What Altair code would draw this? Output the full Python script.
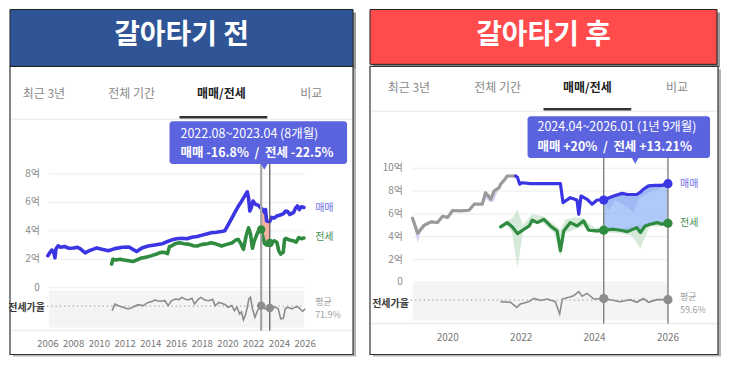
import altair as alt
import pandas as pd

FONT = "Noto Sans CJK KR"
NB = "\u00a0"

# ---------------- LEFT PANEL DATA (갈아타기 전) ----------------
L_TITLE = "갈아타기 전"
L_SALE = [(2006.0, 2.25), (2006.1, 2.4), (2006.3, 2.65), (2006.45, 2.5), (2006.55, 2.1), (2006.62, 2.7),
          (2006.8, 2.95), (2007.0, 2.85), (2007.3, 2.9), (2007.6, 2.78), (2008.0, 2.8), (2008.3, 2.85),
          (2008.5, 2.75), (2008.9, 2.45), (2009.2, 2.6), (2009.5, 2.7), (2009.8, 2.8), (2010.2, 2.7),
          (2010.7, 2.6), (2011.2, 2.75), (2011.8, 2.85), (2012.3, 2.87), (2012.6, 2.7), (2012.9, 2.55),
          (2013.3, 2.8), (2013.8, 2.94), (2014.3, 3.0), (2014.9, 3.1), (2015.3, 3.25), (2015.6, 3.35),
          (2016.0, 3.45), (2016.4, 3.48), (2016.8, 3.45), (2017.2, 3.55), (2017.6, 3.6), (2018.0, 3.7),
          (2018.4, 3.8), (2018.7, 3.87), (2019.1, 3.9), (2019.5, 3.95), (2019.75, 4.0), (2020.0, 4.4),
          (2020.3, 4.9), (2020.6, 5.4), (2020.8, 5.73), (2021.0, 6.0), (2021.2, 6.3), (2021.4, 6.6),
          (2021.5, 6.75), (2021.6, 6.3), (2021.7, 5.4), (2021.8, 5.6), (2021.95, 6.1), (2022.1, 5.9),
          (2022.2, 5.85), (2022.35, 5.8), (2022.5, 5.65), (2022.58, 5.6), (2022.7, 5.5), (2022.85, 5.3),
          (2022.92, 5.5), (2023.0, 4.7), (2023.25, 4.65), (2023.4, 4.95), (2023.6, 4.9), (2023.8, 5.05),
          (2024.0, 5.1), (2024.3, 5.2), (2024.5, 5.4), (2024.65, 5.35), (2024.8, 5.15), (2024.9, 5.2),
          (2025.1, 5.3), (2025.25, 5.6), (2025.4, 5.75), (2025.55, 5.5), (2025.7, 5.7), (2025.9, 5.65)]
L_JEON = [(2010.96, 1.66), (2011.05, 2.0), (2011.3, 1.95), (2011.6, 2.0), (2011.9, 1.95), (2012.3, 1.9),
          (2012.6, 1.84), (2012.9, 1.95), (2013.2, 2.07), (2013.6, 2.15), (2014.0, 2.24), (2014.4, 2.35),
          (2014.7, 2.47), (2015.0, 2.5), (2015.3, 2.4), (2015.45, 2.9), (2015.6, 2.94), (2015.9, 3.1),
          (2016.2, 3.17), (2016.6, 3.1), (2017.0, 3.05), (2017.3, 2.95), (2017.6, 2.94), (2018.0, 3.05),
          (2018.4, 3.1), (2018.7, 3.17), (2019.0, 3.1), (2019.3, 3.0), (2019.5, 2.94), (2019.9, 3.05),
          (2020.3, 3.15), (2020.6, 3.35), (2020.8, 3.4), (2021.0, 3.1), (2021.2, 2.7), (2021.4, 3.6),
          (2021.6, 4.22), (2021.75, 3.8), (2021.9, 2.78), (2022.05, 3.3), (2022.3, 3.87), (2022.45, 4.15),
          (2022.58, 4.1), (2022.7, 3.6), (2022.85, 3.1), (2023.0, 3.0), (2023.25, 3.15), (2023.45, 3.2),
          (2023.6, 3.3), (2023.8, 3.2), (2023.95, 2.6), (2024.1, 2.36), (2024.3, 2.5), (2024.4, 3.4),
          (2024.5, 3.47), (2024.8, 3.35), (2025.1, 3.29), (2025.3, 3.2), (2025.5, 3.52), (2025.7, 3.45),
          (2025.9, 3.5)]
L_RATIO = [(2011.0, 65.6), (2011.2, 74), (2011.45, 72), (2011.7, 70.6), (2012.0, 69), (2012.25, 67.8),
           (2012.6, 70), (2013.0, 73.1), (2013.4, 72), (2013.8, 76), (2014.1, 77), (2014.3, 79),
           (2014.7, 77.5), (2015.1, 78.1), (2015.35, 71.9), (2015.6, 78), (2015.9, 80.3), (2016.2, 79.5),
           (2016.4, 82.3), (2016.7, 80), (2016.9, 79), (2017.2, 81), (2017.4, 74), (2017.7, 80),
           (2017.9, 82.3), (2018.2, 79), (2018.5, 78.1), (2018.8, 80), (2019.0, 71.9), (2019.3, 76),
           (2019.5, 75), (2019.8, 73), (2020.0, 69.8), (2020.3, 72), (2020.5, 65.6), (2020.7, 70),
           (2020.9, 61.5), (2021.05, 64), (2021.2, 54), (2021.35, 60), (2021.5, 69.8), (2021.62, 80),
           (2021.75, 82.3), (2021.9, 68), (2022.1, 57.3), (2022.3, 66), (2022.58, 71.9), (2022.75, 70),
           (2022.9, 67.8), (2023.1, 70.5), (2023.25, 69), (2023.5, 70), (2023.7, 69.8), (2023.9, 68),
           (2024.1, 55.3), (2024.3, 56), (2024.45, 68), (2024.6, 69.8), (2024.8, 69), (2025.0, 67.8),
           (2025.2, 70), (2025.4, 70.6), (2025.6, 68), (2025.8, 64.6), (2026.0, 67.8)]
L_HILITE = [(2022.58, 5.6, 4.1), (2022.7, 5.5, 3.6), (2022.85, 5.3, 3.1), (2023.0, 4.7, 3.0), (2023.25, 4.65, 3.15)]
L_MARK_YR = [2022.58, 2023.25]
L_MARK_JEON = [4.1, 3.15]
L_MARK_RATIO = [71.9, 69.0]
L_YEARS = [2006, 2008, 2010, 2012, 2014, 2016, 2018, 2020, 2022, 2024, 2026]
L_YTICKS = [0, 2, 4, 6, 8]
L_YTICK_LABELS = ["0", "2억", "4억", "6억", "8억"]
L_TIP = ["2022.08~2023.04 (8개월)", "매매 -16.8%  /  전세 -22.5%"]
L_AVG = "71.9%"

# ---------------- RIGHT PANEL DATA (갈아타기 후) ----------------
R_TITLE = "갈아타기 후"
R_SALE_OLD = [(2019.04, 5.62), (2019.18, 4.3), (2019.36, 5.0), (2019.54, 5.3), (2019.72, 5.25), (2019.86, 5.8),
              (2020.0, 5.7), (2020.13, 6.3), (2020.35, 6.26), (2020.58, 6.32), (2020.72, 6.85), (2020.94, 6.85),
              (2021.03, 7.86), (2021.1, 7.6), (2021.17, 7.28), (2021.26, 8.0), (2021.4, 8.3), (2021.44, 8.6),
              (2021.55, 9.0), (2021.62, 9.32), (2021.85, 9.32)]
R_SALE = [(2021.85, 9.32), (2021.9, 9.2), (2021.96, 8.6), (2022.03, 8.73), (2022.26, 8.65), (2023.07, 8.65),
          (2023.14, 6.99), (2023.34, 7.42), (2023.52, 7.22), (2023.57, 5.97), (2023.63, 7.57), (2023.8, 7.28),
          (2023.93, 6.85), (2024.07, 7.22), (2024.25, 7.22), (2024.52, 7.57), (2024.75, 7.8), (2024.9, 7.7),
          (2025.15, 7.7), (2025.25, 7.9), (2025.33, 8.16), (2025.47, 8.45), (2025.65, 8.5), (2025.83, 8.5),
          (2026.0, 8.65)]
R_JEON = [(2021.44, 4.86), (2021.62, 5.24), (2021.76, 4.86), (2021.9, 4.28), (2022.08, 4.66), (2022.22, 4.95),
          (2022.3, 5.45), (2022.44, 5.24), (2022.62, 5.53), (2022.8, 4.95), (2022.98, 4.51), (2023.07, 2.77),
          (2023.16, 4.51), (2023.34, 5.24), (2023.52, 4.95), (2023.7, 5.39), (2023.84, 4.57), (2024.07, 4.51),
          (2024.25, 4.58), (2024.52, 4.66), (2024.75, 4.55), (2024.9, 4.45), (2025.15, 4.8), (2025.25, 4.37),
          (2025.38, 4.95), (2025.52, 5.1), (2025.7, 5.24), (2025.84, 5.1), (2026.0, 5.18)]
R_JEON_BAND = [(2021.44, 4.7, 5.0), (2021.6, 5.0, 5.4), (2021.75, 4.4, 5.6), (2021.9, 1.3, 6.4), (2022.05, 4.4, 5.0),
               (2022.3, 5.2, 6.0), (2022.6, 5.2, 5.8), (2022.9, 4.3, 5.1), (2023.07, 2.3, 4.6), (2023.2, 4.3, 5.5),
               (2023.5, 4.7, 5.7), (2023.7, 4.9, 5.6), (2024.0, 4.3, 4.8), (2024.3, 4.4, 4.8), (2024.7, 4.3, 4.7),
               (2025.0, 4.1, 4.9), (2025.25, 3.0, 5.0), (2025.5, 4.9, 5.3), (2025.8, 4.9, 5.4), (2026.0, 5.1, 5.3)]
R_SALE_BAND_A = [(2019.04, 5.5, 5.7), (2019.18, 3.4, 4.5), (2019.3, 4.9, 5.1), (2019.45, 5.15, 5.35)]
R_SALE_BAND_B = [(2021.0, 7.4, 7.9), (2021.17, 7.0, 7.4), (2021.26, 7.1, 8.0), (2021.35, 7.9, 8.3)]
R_HILITE = [(2024.25, 7.22, 4.58), (2024.52, 7.57, 4.66), (2024.75, 7.8, 4.55), (2024.9, 7.7, 4.45),
            (2025.15, 7.7, 4.8), (2025.25, 7.9, 4.37), (2025.33, 8.16, 4.7), (2025.47, 8.45, 5.0),
            (2025.65, 8.5, 5.2), (2025.83, 8.5, 5.1), (2026.0, 8.65, 5.18)]
R_HILITE_SPIKES = [(2024.25, 7.0, 7.3), (2024.4, 6.3, 7.5), (2024.55, 7.2, 7.6), (2024.9, 6.6, 7.7),
                   (2025.05, 6.1, 7.7), (2025.2, 7.3, 7.8), (2025.5, 7.9, 8.5), (2026.0, 8.5, 8.7)]
R_RATIO = [(2021.44, 57.1), (2021.71, 56.3), (2021.88, 50), (2021.98, 54.2), (2022.2, 57.1), (2022.35, 61.2),
           (2022.53, 58.6), (2022.71, 60.4), (2022.93, 57.1), (2023.05, 41.7), (2023.12, 60.4), (2023.3, 62.5),
           (2023.43, 64.6), (2023.57, 69.6), (2023.66, 64), (2023.8, 67.5), (2023.98, 60.4), (2024.25, 61),
           (2024.43, 59.6), (2024.7, 57.1), (2024.97, 59.6), (2025.15, 56.3), (2025.33, 61), (2025.47, 56.3),
           (2025.7, 59.6), (2026.0, 59.6)]
R_MARK_YR = [2024.25, 2026.0]
R_MARK_SALE = [7.22, 8.65]
R_MARK_JEON = [4.58, 5.18]
R_MARK_RATIO = [61.0, 59.6]
R_YEARS = [2020, 2022, 2024, 2026]
R_YTICKS = [0, 2, 4, 6, 8, 10]
R_YTICK_LABELS = ["0", "2억", "4억", "6억", "8억", "10억"]
R_TIP = ["2024.04~2026.01 (1년 9개월)", "매매 +20%  /  전세 +13.21%"]
R_AVG = "59.6%"

TABS = ["최근 3년", "전체 기간", "매매/전세", "비교"]

SALE_C = "#3B35E3"
JEON_C = "#2E8B3F"
TIP_C = "#5B63DE"


def one():
    return pd.DataFrame({"k": [0]})


def rect(x1, x2, y1, y2, **kw):
    return alt.Chart(one()).mark_rect(**kw).encode(
        x=alt.value(x1), x2=alt.value(x2), y=alt.value(y1), y2=alt.value(y2))


def txt(x, y, s, **kw):
    kw.setdefault("font", FONT)
    return alt.Chart(one()).mark_text(text=s, **kw).encode(x=alt.value(x), y=alt.value(y))


def hrule(x1, x2, y, **kw):
    return alt.Chart(one()).mark_rule(**kw).encode(x=alt.value(x1), x2=alt.value(x2), y=alt.value(y))


def keep_spaces(s):
    return s.replace("  ", NB + NB)


def panel(c):
    XS = alt.Scale(domain=c["xdom"], range=c["xrng"], nice=False, zero=False)
    YS = alt.Scale(domain=c["ydom"], range=c["yrng"], nice=False, zero=False)
    RS = alt.Scale(domain=c["rdom"], range=c["rrng"], nice=False, zero=False)
    X = alt.X("yr:Q", scale=XS, axis=None)

    def Y(f="v"):
        return alt.Y(f + ":Q", scale=YS, axis=None)

    layers = []
    bx1, bx2, by1, by2 = c["banner"]
    cx1, cx2, cy1, cy2 = c["card"]
    # shadows
    layers.append(rect(cx1 + 3, cx2 + 3, cy1 + 3, cy2 + 2, color="#777", opacity=0.55))
    layers.append(rect(bx1 + 3, bx2 + 3, by1 + 3, by2 + 3, color="#555", opacity=0.6))
    # card
    layers.append(rect(cx1, cx2, cy1, cy2, fill="white", stroke="#333", strokeWidth=1.2))
    # banner
    layers.append(rect(bx1, bx2, by1, by2, fill=c["bcolor"], stroke="#222", strokeWidth=1))
    layers.append(txt((bx1 + bx2) / 2, c["title_y"], c["title"], fontSize=28, fontWeight="bold",
                      color="white", align="center", baseline="middle"))
    # tabs
    for i, t in enumerate(TABS):
        active = (i == 2)
        layers.append(txt(c["tab_x"][i], c["tab_y"], t, fontSize=12, align="center", baseline="middle",
                          fontWeight="bold" if active else "normal",
                          color="#222" if active else "#888"))
    layers.append(hrule(cx1 + 1, cx2 - 1, c["sep_y"], color="#E6E6E6", strokeWidth=1))
    layers.append(rect(c["ul"][0], c["ul"][1], c["ul"][2] - 1.2, c["ul"][2] + 1.2, color="#333"))

    gx1, gx2 = c["grid_x"]
    # gridlines + y labels
    ydf = pd.DataFrame({"v": c["yticks"], "lab": c["ylabels"]})
    layers.append(alt.Chart(ydf).mark_rule(color="#ECECEC", strokeWidth=1).encode(
        y=Y(), x=alt.value(gx1), x2=alt.value(gx2)))
    layers.append(alt.Chart(ydf).mark_text(font=FONT, fontSize=10, color="#8A8A8A", align="right",
                                           baseline="middle").encode(
        y=Y(), x=alt.value(c["ylab_x"]), text="lab:N"))
    # ratio band
    rb1, rb2 = c["rband"]
    layers.append(rect(gx1, gx2, rb1, rb2, color="#F4F4F4"))
    layers.append(hrule(cx1 + 1, cx2 - 1, c["bottom_sep"], color="#EBEBEB", strokeWidth=1.5))
    # x labels
    xdf = pd.DataFrame({"yr": c["years"], "lab": [str(y) for y in c["years"]]})
    layers.append(alt.Chart(xdf).mark_text(font=FONT, fontSize=c["xfs"], color="#777", align="center",
                                           baseline="middle").encode(
        x=X, y=alt.value(c["xlab_y"]), text="lab:N"))

    # bands
    for band, col, op in c.get("bands", []):
        bdf = pd.DataFrame(band, columns=["yr", "lo", "hi"])
        layers.append(alt.Chart(bdf).mark_area(color=col, opacity=op).encode(
            x=X, y=Y("lo"), y2=alt.Y2("hi")))
    # highlight fill
    hdf = pd.DataFrame(c["hilite"], columns=["yr", "top", "bot"])
    layers.append(alt.Chart(hdf).mark_area(color=c["hcolor"], opacity=c["hop"]).encode(
        x=X, y=Y("top"), y2=alt.Y2("bot")))
    for band, col, op in c.get("post_bands", []):
        bdf = pd.DataFrame(band, columns=["yr", "lo", "hi"])
        layers.append(alt.Chart(bdf).mark_area(color=col, opacity=op).encode(
            x=X, y=Y("lo"), y2=alt.Y2("hi")))

    # lines
    for series, col, w in c["lines"]:
        df = pd.DataFrame(series, columns=["yr", "v"])
        layers.append(alt.Chart(df).mark_line(color=col, strokeWidth=w, strokeJoin="round",
                                              strokeCap="round").encode(x=X, y=Y()))
    # ratio
    rdf = pd.DataFrame(c["ratio"], columns=["yr", "r"])
    layers.append(hrule(c["dot_x1"], gx2, c["avg_y"], color="#A8A8A8", strokeWidth=1.3, strokeDash=[1.3, 3]))
    layers.append(alt.Chart(rdf).mark_line(color="#8C8C8C", strokeWidth=1.6).encode(
        x=X, y=alt.Y("r:Q", scale=RS, axis=None)))

    # vertical markers
    vdf = pd.DataFrame({"yr": c["mark_yr"]})
    for i in range(len(c["mark_yr"])):
        layers.append(alt.Chart(vdf.iloc[[i]]).mark_rule(color=c["vcolor"][i], strokeWidth=c["vwidth"][i]).encode(
            x=X, y=alt.value(c["vy"][0]), y2=alt.value(c["vy"][1])))

    # dots
    if c.get("mark_sale"):
        d = pd.DataFrame({"yr": c["mark_yr"], "v": c["mark_sale"]})
        layers.append(alt.Chart(d).mark_circle(color=SALE_C, size=c["dot"], opacity=1).encode(x=X, y=Y()))
    d = pd.DataFrame({"yr": c["mark_yr"], "v": c["mark_jeon"]})
    layers.append(alt.Chart(d).mark_circle(color=JEON_C, size=c["dot"], opacity=1).encode(x=X, y=Y()))
    d = pd.DataFrame({"yr": c["mark_yr"], "r": c["mark_ratio"]})
    layers.append(alt.Chart(d).mark_circle(color="#8C8C8C", size=c["dot"], opacity=1).encode(
        x=X, y=alt.Y("r:Q", scale=RS, axis=None)))

    # side labels
    lx = c["side_x"]
    layers.append(txt(lx, c["sale_lab_y"], "매매", fontSize=10, color="#6C6CE6", align="left", baseline="middle"))
    layers.append(txt(lx, c["jeon_lab_y"], "전세", fontSize=10, color="#3E8E4F", align="left", baseline="middle"))
    layers.append(txt(lx, c["avg_lab_y"][0], "평균", fontSize=9, color="#A0A0A0", align="left", baseline="middle"))
    layers.append(txt(lx, c["avg_lab_y"][1], c["avg"], fontSize=9, color="#A0A0A0", align="left", baseline="middle"))
    layers.append(txt(c["ratio_lab_x"], c["ratio_lab_y"], "전세가율", fontSize=10, fontWeight="bold",
                      color="#3A3A3A", align="right", baseline="middle"))

    # tooltip
    tx1, tx2, ty1, ty2 = c["tip"]
    layers.append(rect(tx1, tx2, ty1, ty2, color=TIP_C, cornerRadius=3))
    layers.append(alt.Chart(one()).mark_point(shape="triangle-down", filled=True, color=TIP_C, size=70,
                                              opacity=1).encode(
        x=alt.value(c["tip_ptr"]), y=alt.value(ty2 + 2)))
    layers.append(txt(c["tip_tx"], c["tip_ty"][0], keep_spaces(c["tip_text"][0]), fontSize=12.5, color="white",
                      align="left", baseline="middle", fontWeight="normal"))
    layers.append(txt(c["tip_tx"], c["tip_ty"][1], keep_spaces(c["tip_text"][1]), fontSize=12.5, color="white",
                      align="left", baseline="middle", fontWeight="bold"))

    return alt.layer(*layers).resolve_scale(x="independent", y="independent").properties(
        width=c["w"], height=349)


LEFT = dict(
    w=357, title=L_TITLE, bcolor="#2F5597", banner=(0, 344, 0, 57), card=(0, 344, 57, 346), title_y=27,
    tab_x=[34, 122, 212, 302], tab_y=85, sep_y=110, ul=(170, 258, 108),
    xdom=[2006, 2026], xrng=[38, 296], ydom=[0, 8], yrng=[279, 165], rdom=[50, 90], rrng=[314.52, 282.52],
    grid_x=(39, 295), yticks=L_YTICKS, ylabels=L_YTICK_LABELS, ylab_x=30,
    rband=(282, 319), bottom_sep=322, years=L_YEARS, xlab_y=335, xfs=9.6,
    hilite=L_HILITE, hcolor="#F3A493", hop=0.85,
    lines=[(L_JEON, JEON_C, 3.6), (L_SALE, SALE_C, 3.6)],
    ratio=L_RATIO, dot_x1=37, avg_y=297.5,
    mark_yr=L_MARK_YR, vwidth=[2.2, 1.2], vcolor=["#A5A5A5", "#555555"], vy=(155, 322),
    mark_sale=None, mark_jeon=L_MARK_JEON, mark_ratio=L_MARK_RATIO, dot=70,
    side_x=306, sale_lab_y=199, jeon_lab_y=228, avg_lab_y=(293, 306), avg=L_AVG,
    ratio_lab_x=35, ratio_lab_y=299,
    tip=(160, 338, 112, 155), tip_ptr=255, tip_tx=171, tip_ty=(125, 144), tip_text=L_TIP,
)

RIGHT = dict(
    w=356, title=R_TITLE, bcolor="#FF4B4B", banner=(4, 352, 0, 55), card=(4, 353, 57, 346), title_y=27,
    tab_x=[43, 132, 222, 312], tab_y=79, sep_y=102, ul=(178, 266, 100),
    xdom=[2019, 2026], xrng=[45.2, 302.8], ydom=[0, 10], yrng=[273.7, 159.2], rdom=[40, 80],
    rrng=[306.68, 274.68],
    grid_x=(47, 302), yticks=R_YTICKS, ylabels=R_YTICK_LABELS, ylab_x=37,
    rband=(275, 312), bottom_sep=315, years=R_YEARS, xlab_y=329, xfs=10,
    bands=[(R_JEON_BAND, "#CFE6D3", 0.85), (R_SALE_BAND_A, "#D3D4F6", 0.9), (R_SALE_BAND_B, "#D3D4F6", 0.9)],
    hilite=R_HILITE, hcolor="#8DB2F5", hop=0.7,
    post_bands=[(R_HILITE_SPIKES, "#7A95EE", 0.3)],
    lines=[(R_SALE_OLD, "#9A9A9A", 3.2), (R_JEON, JEON_C, 3.2), (R_SALE, SALE_C, 3.2)],
    ratio=R_RATIO, dot_x1=45, avg_y=291.5,
    mark_yr=R_MARK_YR, vwidth=[1.3, 1.3], vcolor=["#777777", "#777777"], vy=(149, 315),
    mark_sale=R_MARK_SALE, mark_jeon=R_MARK_JEON, mark_ratio=R_MARK_RATIO, dot=85,
    side_x=315, sale_lab_y=175, jeon_lab_y=214, avg_lab_y=(288, 301), avg=R_AVG,
    ratio_lab_x=43, ratio_lab_y=295,
    tip=(162, 345, 107, 149), tip_ptr=270, tip_tx=172, tip_ty=(118, 138), tip_text=R_TIP,
)

chart = alt.hconcat(panel(LEFT), panel(RIGHT), spacing=0).properties(
    padding=0, background="white"
).configure_view(stroke=None).configure_concat(spacing=0)

chart.save("out.html", embed_options={"renderer": "svg", "actions": False})
